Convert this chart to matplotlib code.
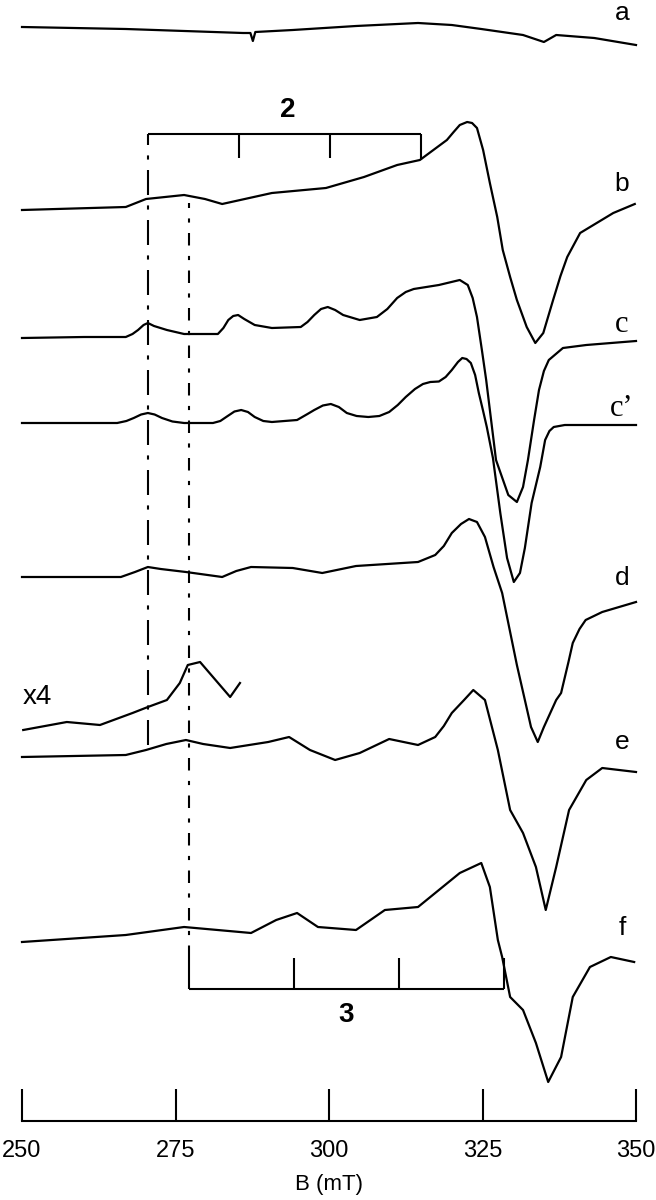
import matplotlib
matplotlib.use("Agg")
import matplotlib.pyplot as plt

plt.rcParams['font.family'] = ['Liberation Sans', 'DejaVu Sans']

# field positions (mT) and signal (arbitrary units, up = positive)
field_a = [250.0, 266.9, 286.0, 287.2, 287.6, 288.0, 294.1, 304.4, 314.5, 320.0, 324.8,
           331.6, 335.0, 337.0, 343.2, 350.0]
sig_a = [0, -2, -6, -6, -14, -5, -3, 1, 4, 2, -2, -8, -15, -8, -11, -18]

field_b = [250.0, 266.9, 270.2, 276.4, 279.8, 282.6, 290.7, 299.5, 305.7, 311.1, 314.8,
           319.2, 320.3, 321.3, 322.5, 323.3, 324.1, 325.1, 326.2, 327.4, 328.3, 329.5,
           330.6, 332.2, 333.6, 334.9, 336.5, 337.7, 338.8, 340.9, 343.6, 346.3, 349.8]
sig_b = [0, 3, 11, 15, 11, 6, 17, 22, 33, 45, 50, 70, 78, 85, 88, 87, 82, 60, 27, -7,
         -40, -67, -90, -117, -133, -123, -90, -66, -47, -23, -13, -3, 6]

field_c = [250.0, 260.1, 266.9, 268.0, 268.9, 269.8, 270.5, 271.5, 273.6, 276.4, 281.9,
           282.8, 283.6, 284.4, 285.2, 286.2, 287.9, 290.7, 295.4, 296.5, 297.6, 298.7,
           299.8, 301.0, 302.3, 305.0, 307.8, 309.5, 311.1, 312.5, 313.8, 317.9, 321.3,
           322.6, 323.4, 324.1, 324.9, 325.6, 327.2, 329.2, 330.6, 331.6, 332.4, 333.4,
           334.2, 335.0, 335.8, 338.1, 341.9, 350.0]
sig_c = [0, 1, 1, 4, 8, 13, 15, 12, 8, 4, 4, 10, 18, 22, 23, 19, 13, 10, 11, 16, 23, 29,
         31, 28, 23, 18, 21, 29, 40, 46, 49, 53, 58, 53, 40, 21, -12, -42, -122, -157,
         -164, -149, -122, -82, -52, -33, -22, -10, -7, -3]

field_c2 = [250.0, 265.5, 267.0, 268.2, 269.4, 270.5, 271.6, 272.8, 274.5, 276.4, 281.1,
            282.3, 283.5, 284.6, 285.7, 286.8, 287.9, 289.3, 290.7, 294.8, 296.5, 297.6,
            299.0, 300.3, 301.6, 302.9, 304.5, 306.4, 308.2, 309.8, 311.2, 312.5, 314.0,
            315.3, 316.5, 317.9, 319.0, 320.0, 321.0, 321.7, 322.4, 323.1, 323.8, 324.4,
            325.1, 325.7, 326.7, 327.9, 329.0, 330.1, 331.1, 331.9, 333.0, 334.4, 335.2,
            335.9, 336.6, 338.4, 350.0]
sig_c2 = [0, 0, 2, 5, 8.5, 10, 8.5, 5, 1.5, 0, 0, 2, 7, 11.5, 13, 11, 6, 2, 1, 3, 9, 13,
          17.5, 19, 16, 10, 7, 6, 7, 11, 18, 26, 34, 39, 41, 41.5, 46, 53, 61, 65, 64, 60,
          48, 30, 12, -4, -35, -90, -135, -159, -150, -125, -80, -44, -17, -8, -4, -2, -2]

field_d = [250.0, 266.1, 268.4, 270.5, 272.6, 276.7, 282.6, 284.9, 287.3, 294.1, 298.9,
           304.4, 314.5, 317.3, 318.7, 320.0, 321.5, 322.8, 324.1, 325.4, 326.8, 328.2,
           330.6, 331.9, 332.9, 334.0, 335.0, 337.0, 337.8, 339.0, 339.7, 340.8, 341.8,
           344.5, 350.0]
sig_d = [0, 0, 5, 10, 8, 5, 0, 6, 10, 9, 4, 11, 15, 22, 31, 44, 53, 58, 55, 40, 10, -16,
         -88, -123, -150, -165, -150, -123, -116, -85, -66, -52, -43, -35, -25]

field_e = [250.0, 266.9, 270.2, 273.5, 276.7, 279.5, 283.9, 290.1, 293.5, 296.9, 301.0,
           305.0, 309.8, 314.5, 317.3, 318.7, 320.0, 322.0, 323.5, 325.4, 327.5, 329.5,
           331.6, 333.7, 335.3, 337.0, 339.1, 341.9, 344.5, 350.0]
sig_e = [0, 2, 7, 13, 17, 13, 9, 15, 20, 7, -3, 4, 18, 12, 20, 31, 44, 57, 67, 57, 7,
         -53, -76, -110, -153, -110, -53, -23, -11, -15]

# low-field part of e, magnified x4
field_e4 = [250.2, 257.3, 262.7, 268.0, 270.5, 273.6, 275.7, 277.0, 279.0, 281.1, 283.9,
            285.5]
sig_e4 = [0, 8, 5, 17, 23, 30, 47, 65, 68, 53, 33, 47]

field_f = [250.0, 266.9, 276.4, 287.3, 291.4, 294.8, 298.2, 304.4, 309.1, 314.5, 317.9,
           321.3, 324.8, 326.2, 327.5, 328.2, 329.5, 331.6, 333.7, 335.7, 337.8, 339.7,
           342.5, 345.9, 349.7]
sig_f = [0, 7, 15, 9, 22, 29, 15, 12, 32, 35, 52, 69, 79, 55, 2, -15, -55, -68, -101,
         -140, -115, -55, -25, -15, -20]

# hyperfine stick patterns
lines_2 = [270.5, 285.3, 300.1, 315.0]
lines_3 = [277.2, 294.3, 311.4, 328.5]

ticks = [250, 275, 300, 325, 350]

# vertical layout (pixels from the top of the picture)
W, H = 656, 1200
AXIS_Y = 1121
SANS = ['Liberation Sans', 'DejaVu Sans']
SERIF = ['Liberation Serif', 'DejaVu Serif']
traces = [
    (field_a, sig_a, 27, 'a', 13, SANS),
    (field_b, sig_b, 210, 'b', 184, SANS),
    (field_c, sig_c, 338, 'c', 325, SERIF),
    (field_c2, sig_c2, 423, "c\u2019", 408, SERIF),
    (field_d, sig_d, 577, 'd', 578, SANS),
    (field_e, sig_e, 757, 'e', 742, SANS),
    (field_f, sig_f, 942, 'f', 928, SANS),
]

fig = plt.figure(figsize=(W / 100, H / 100), dpi=100)
ax = fig.add_axes([22 / W, (H - AXIS_Y) / H, 614 / W, AXIS_Y / H])
ax.set_xlim(250, 350)
ax.set_ylim(-AXIS_Y, 0)

for fld, sig, base, lab, lab_y, fam in traces:
    ax.plot(fld, [-base + s for s in sig], color='black', lw=1.6, clip_on=False,
            solid_joinstyle='round')
    size = 22 if fam is SERIF else 19
    fig.text(622 / W, 1 - lab_y / H, lab, fontsize=size, family=fam,
             ha='center', va='center')

ax.plot(field_e4, [-730 + s for s in sig_e4], color='black', lw=1.6, clip_on=False,
        solid_joinstyle='round')
fig.text(37 / W, 1 - 697 / H, 'x4', fontsize=20, ha='center', va='center')

# stick pattern 2 (above b)
ax.hlines(-134, lines_2[0], lines_2[-1], color='black', lw=1.5)
ax.vlines(lines_2[1:3], -158, -134, color='black', lw=1.5)
ax.vlines(lines_2[-1], -160, -134, color='black', lw=1.5)
fig.text(288 / W, 1 - 110 / H, '2', fontsize=20, fontweight='bold',
         ha='center', va='center')

# stick pattern 3 (below f)
ax.hlines(-989, lines_3[0], lines_3[-1], color='black', lw=1.5)
ax.vlines(lines_3, -989, -958, color='black', lw=1.5)
fig.text(346 / W, 1 - 1015 / H, '3', fontsize=20, fontweight='bold',
         ha='center', va='center')

# guide lines
ax.vlines(lines_2[0], -745, -134, color='black', lw=1.5, linestyles=[(0, (12, 5, 2, 5))])
ax.vlines(lines_3[0], -958, -203, color='black', lw=1.5, linestyles=[(0, (6, 5, 2, 5))])

for side in ['top', 'left', 'right']:
    ax.spines[side].set_visible(False)
ax.spines['bottom'].set_linewidth(1.5)
ax.set_yticks([])
ax.set_xticks(ticks)
ax.tick_params(axis='x', direction='in', length=23, width=1.5, pad=14, labelsize=17)
ax.set_xlabel('B (mT)', fontsize=16, labelpad=8)
ax.patch.set_visible(False)

fig.savefig('out.png', dpi=100)
